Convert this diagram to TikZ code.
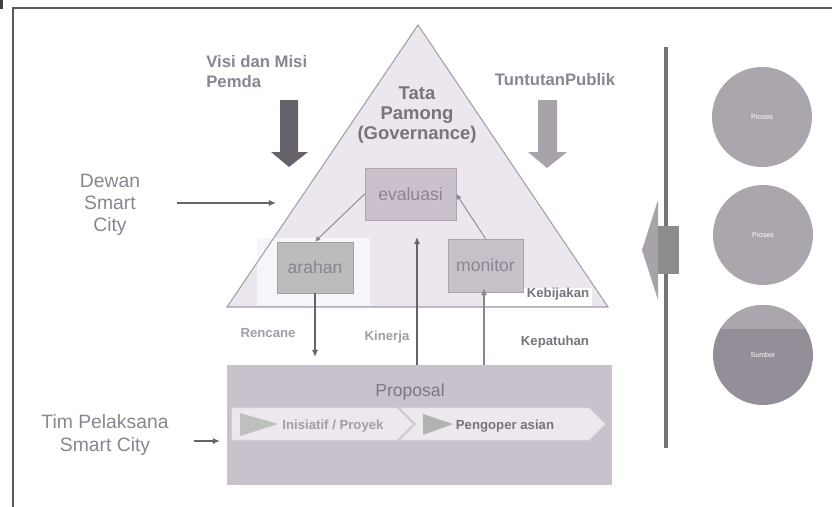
\documentclass[tikz,border=0pt]{standalone}
\usepackage{fontspec}
\setmainfont{Liberation Sans}
\usetikzlibrary{arrows.meta,positioning}
\definecolor{txtgray}{HTML}{8A8590}
\definecolor{txtdark}{HTML}{78737D}
\definecolor{txtlight}{HTML}{A39DA6}
\definecolor{trifill}{HTML}{ECE6EF}
\definecolor{tridraw}{HTML}{A29DA6}
\definecolor{arrdark}{HTML}{67626B}
\definecolor{arrlight}{HTML}{A8A3AB}
\definecolor{evalfill}{HTML}{CBC1CC}
\definecolor{arahfill}{HTML}{BDBBBC}
\definecolor{monfill}{HTML}{C7C0C8}
\definecolor{propfill}{HTML}{C9C1CC}
\definecolor{chevfill}{HTML}{ECE8EE}
\definecolor{discfill}{HTML}{ABA6AE}
\definecolor{discdark}{HTML}{948E98}
\definecolor{barcol}{HTML}{77737B}

\begin{document}
\begin{tikzpicture}[x=0.02cm,y=-0.02cm,
    lbl/.style={text=txtgray, align=center, inner sep=0pt},
    boxed/.style={draw=#1!85!black, fill=#1, line width=0.4pt, text=txtgray,
        font=\fontsize{10}{12}\selectfont, inner sep=0pt},
    small/.style={inner sep=0pt, font=\fontsize{7.5}{9}\selectfont\bfseries},
    disc/.style={circle, fill=#1, minimum size=2cm, inner sep=0pt, text=white,
        font=\fontsize{4}{5}\selectfont},
    flow/.style={draw=#1, line width=1.1pt, -{Latex[length=4pt,width=3.5pt]}},
    thinflow/.style={draw=txtgray, line width=0.5pt, -{Latex[length=3pt,width=3pt]}}]
    \fill[white] (0,0) rectangle (832,507);
    \useasboundingbox (0,0) rectangle (832,507);
    % frame
    \draw[black!65, line width=0.8pt] (12,8) -- (832,8);
    \draw[black!65, line width=0.8pt] (13,8) -- (13,507);
    \fill[black!75] (0,0) rectangle (3,9);

    % pyramid
    \fill[trifill] (418,25) -- (608,307) -- (227,307) -- cycle;
    \fill[white!60!trifill] (257,238) rectangle (370,306);
    \fill[white] (485,288) rectangle (592,306);
    \draw[tridraw, line width=0.6pt] (418,25) -- (608,307) -- (227,307) -- cycle;
    \draw[black!35, line width=0.5pt] (485,288) -- (523,288);
    \node[lbl, text=txtdark, font=\fontsize{10.5}{11.3}\selectfont\bfseries] (tata) at (417,115)
        {Tata\\Pamong\\(Governance)};

    \node[boxed=evalfill, minimum width=1.82cm, minimum height=1.04cm] (eval) at (410.5,194) {evaluasi};
    \node[boxed=arahfill, minimum width=1.52cm, minimum height=1.02cm] (arah) at (315,267.5) {arahan};
    \node[boxed=monfill, minimum width=1.5cm, minimum height=1.06cm] (mon) at (485.5,265.5) {monitor};
    \draw[thinflow] (eval.west) -- (arah.north);
    \draw[thinflow] (mon.north) -- (eval.east);

    % inputs from above
    \node[lbl, align=left, font=\fontsize{9.5}{11.3}\selectfont\bfseries, anchor=north west] (visi) at (206,55)
        {Visi dan Misi\\Pemda};
    \fill[arrdark] (280,100) -- (298,100) -- (298,152) -- (308,152) -- (289,167) -- (271,152) -- (280,152) -- cycle;
    \node[lbl, font=\fontsize{9.5}{11.3}\selectfont\bfseries] (publik) at (555,80) {TuntutanPublik};
    \fill[arrlight] (538,100) -- (557,100) -- (557,152) -- (567,152) -- (547,168) -- (528,152) -- (538,152) -- cycle;

    % left actors
    \node[lbl, font=\fontsize{11}{12.5}\selectfont] (dewan) at (110,205) {Dewan\\Smart\\City};
    \coordinate (dewanTip) at (276,203);
    \draw[flow=arrdark, line width=0.8pt, shorten <=0.74cm] (dewan.east |- dewanTip) -- (dewanTip);
    \node[lbl, font=\fontsize{11}{13.6}\selectfont] (tim) at (105,435) {Tim Pelaksana\\Smart City};

    % proposal
    \node[fill=propfill, minimum width=7.7cm, minimum height=2.4cm, inner sep=0pt] (prop) at (419.5,425) {};
    \node[lbl, text=txtgray!90!black, font=\fontsize{10}{12}\selectfont] (propT) at (410,392) {Proposal};
    \fill[chevfill, draw=black!12] (400,408) -- (589,408) -- (605,424) -- (589,440) -- (400,440) -- (416,424) -- cycle;
    \fill[chevfill, draw=black!12] (232,408) -- (397,408) -- (413,424) -- (397,440) -- (232,440) -- cycle;
    \fill[black!25] (240,413) -- (278,424) -- (240,436) -- cycle;
    \fill[black!30] (423,414) -- (453,424) -- (423,435) -- cycle;
    \node[small, text=txtlight] (inis) at (333,426) {Inisiatif / Proyek};
    \node[small, text=txtdark] (ops) at (505,426) {Pengoper asian};
    \coordinate (timTip) at (220,441);
    \draw[flow=arrdark, line width=0.8pt, shorten <=0.5cm] (tim.east |- timTip) -- (timTip);

    % flows between layers
    \coordinate (rencTip) at (315,357);
    \draw[flow=arrdark] (arah.south) -- (rencTip);
    \coordinate (kinTip) at (417,237);
    \draw[flow=arrdark] (prop.north -| kinTip) -- (kinTip);
    \coordinate (kebTip) at (484,288);
    \draw[flow=txtgray] (prop.north -| kebTip) -- (kebTip);
    \node[small, text=txtlight] (renc) at (268,333) {Rencane};
    \node[small, text=txtlight] (kin) at (387,337) {Kinerja};
    \node[small, text=txtdark] (keb) at (558,294) {Kebijakan};
    \node[small, text=txtdark] (kep) at (555,342) {Kepatuhan};

    % right column
    \fill[barcol] (664,47) rectangle (668,448);
    \fill[arrlight] (642,250) -- (658,200) -- (658,300) -- cycle;
    \fill[black!45] (658,226) rectangle (679,274);
    \node[disc=discfill] (c1) at (762,117) {Proses};
    \node[disc=discfill] (c2) at (763,235) {Proses};
    \node[disc=discdark] (c3) at (763,355) {};
    \begin{scope}
        \clip (700,290) rectangle (830,328);
        \fill[discfill] (c3) circle (1cm);
    \end{scope}
    \node[text=white, font=\fontsize{4}{5}\selectfont] (c3t) at (c3) {Sumber};
\end{tikzpicture}
\end{document}
